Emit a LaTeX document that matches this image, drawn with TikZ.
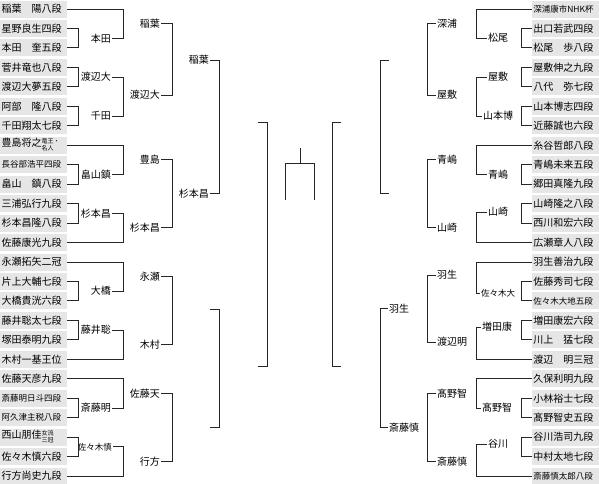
\documentclass[tikz,border=0pt]{standalone}
\usepackage{fontspec}
\setmainfont{Noto Sans CJK JP}
\definecolor{boxgray}{RGB}{230,230,230}
\newcommand{\brk}[3]{\draw[ln] (#1) -- (#1 -| #3) -- (#2 -| #3) -- (#2);}
\newcommand{\smf}{\fontsize{8.5}{9}\selectfont}
\newcommand{\stk}[2]{{\fontsize{6}{7}\selectfont\begin{tabular}[c]{@{}l@{}}#1\\#2\end{tabular}}}
\begin{document}
\begin{tikzpicture}[x=1pt,y=-1pt,
  pl/.style={fill=boxgray, minimum height=17pt, text width=64pt, inner xsep=1.5pt, inner ysep=0pt, align=left, font=\fontsize{10}{10}\selectfont},
  lab/.style={inner sep=1pt, font=\fontsize{10}{10}\selectfont},
  ln/.style={line width=0.9pt, draw=black!85}]
\useasboundingbox (0,0) rectangle (599,483);
% column x coordinates
\coordinate (xa) at (78,0);  \coordinate (xb) at (123,0);
\coordinate (xc) at (172,0); \coordinate (xd) at (219,0);
\coordinate (xe) at (267,0);
\coordinate (ya) at (521,0); \coordinate (yb) at (476,0);
\coordinate (yc) at (427,0); \coordinate (yd) at (380,0);
\coordinate (ye) at (332,0);
% left players
\node[pl,anchor=west] (L0) at (0,9.0) {稲葉　陽八段};
\node[pl,anchor=west] (L1) at (0,28.5) {星野良生四段};
\node[pl,anchor=west] (L2) at (0,47.9) {本田　奎五段};
\node[pl,anchor=west] (L3) at (0,67.4) {菅井竜也八段};
\node[pl,anchor=west] (L4) at (0,86.8) {渡辺大夢五段};
\node[pl,anchor=west] (L5) at (0,106.3) {阿部　隆八段};
\node[pl,anchor=west] (L6) at (0,125.8) {千田翔太七段};
\node[pl,anchor=west] (L7) at (0,145.2) {豊島将之\stk{竜王・}{名人}};
\node[pl,anchor=west] (L8) at (0,164.7) {\smf 長谷部浩平四段};
\node[pl,anchor=west] (L9) at (0,184.1) {畠山　鎮八段};
\node[pl,anchor=west] (L10) at (0,203.6) {三浦弘行九段};
\node[pl,anchor=west] (L11) at (0,223.1) {杉本昌隆八段};
\node[pl,anchor=west] (L12) at (0,242.5) {佐藤康光九段};
\node[pl,anchor=west] (L13) at (0,262.0) {永瀬拓矢二冠};
\node[pl,anchor=west] (L14) at (0,281.4) {片上大輔七段};
\node[pl,anchor=west] (L15) at (0,300.9) {大橋貴洸六段};
\node[pl,anchor=west] (L16) at (0,320.4) {藤井聡太七段};
\node[pl,anchor=west] (L17) at (0,339.8) {塚田泰明九段};
\node[pl,anchor=west] (L18) at (0,359.3) {木村一基王位};
\node[pl,anchor=west] (L19) at (0,378.7) {佐藤天彦九段};
\node[pl,anchor=west] (L20) at (0,398.2) {\smf 斎藤明日斗四段};
\node[pl,anchor=west] (L21) at (0,417.7) {\smf 阿久津主税八段};
\node[pl,anchor=west] (L22) at (0,437.1) {西山朋佳\stk{女流}{三冠}};
\node[pl,anchor=west] (L23) at (0,456.6) {佐々木慎六段};
\node[pl,anchor=west] (L24) at (0,476.0) {行方尚史九段};
% right players
\node[pl,anchor=east] (R0) at (599,9.0) {\smf 深浦康市NHK杯};
\node[pl,anchor=east] (R1) at (599,28.5) {出口若武四段};
\node[pl,anchor=east] (R2) at (599,47.9) {松尾　歩八段};
\node[pl,anchor=east] (R3) at (599,67.4) {屋敷伸之九段};
\node[pl,anchor=east] (R4) at (599,86.8) {八代　弥七段};
\node[pl,anchor=east] (R5) at (599,106.3) {山本博志四段};
\node[pl,anchor=east] (R6) at (599,125.8) {近藤誠也六段};
\node[pl,anchor=east] (R7) at (599,145.2) {糸谷哲郎八段};
\node[pl,anchor=east] (R8) at (599,164.7) {青嶋未来五段};
\node[pl,anchor=east] (R9) at (599,184.1) {郷田真隆九段};
\node[pl,anchor=east] (R10) at (599,203.6) {山崎隆之八段};
\node[pl,anchor=east] (R11) at (599,223.1) {西川和宏六段};
\node[pl,anchor=east] (R12) at (599,242.5) {広瀬章人八段};
\node[pl,anchor=east] (R13) at (599,262.0) {羽生善治九段};
\node[pl,anchor=east] (R14) at (599,281.4) {佐藤秀司七段};
\node[pl,anchor=east] (R15) at (599,300.9) {\smf 佐々木大地五段};
\node[pl,anchor=east] (R16) at (599,320.4) {増田康宏六段};
\node[pl,anchor=east] (R17) at (599,339.8) {川上　猛七段};
\node[pl,anchor=east] (R18) at (599,359.3) {渡辺　明三冠};
\node[pl,anchor=east] (R19) at (599,378.7) {久保利明九段};
\node[pl,anchor=east] (R20) at (599,398.2) {小林裕士七段};
\node[pl,anchor=east] (R21) at (599,417.7) {髙野智史五段};
\node[pl,anchor=east] (R22) at (599,437.1) {谷川浩司九段};
\node[pl,anchor=east] (R23) at (599,456.6) {中村太地七段};
\node[pl,anchor=east] (R24) at (599,476.0) {\smf 斎藤慎太郎八段};
% left round 2 winners
\node[lab,anchor=east] (A1) at (112,38.2) {本田};
\node[lab,anchor=east] (A2) at (112,77.1) {渡辺大};
\node[lab,anchor=east] (A3) at (112,116.05) {千田};
\node[lab,anchor=east] (A4) at (112,174.4) {畠山鎮};
\node[lab,anchor=east] (A5) at (112,213.35) {杉本昌};
\node[lab,anchor=east] (A6) at (112,291.15) {大橋};
\node[lab,anchor=east] (A7) at (112,330.1) {藤井聡};
\node[lab,anchor=east] (A8) at (112,407.95) {斎藤明};
\node[lab,anchor=east,font=\smf] (A9) at (113,446.85) {佐々木慎};
% left round 3 winners
\node[lab,anchor=east] (B1) at (161,23.6) {稲葉};
\node[lab,anchor=east] (B2) at (161,95) {渡辺大};
\node[lab,anchor=east] (B3) at (161,159.8) {豊島};
\node[lab,anchor=east] (B4) at (161,227.9) {杉本昌};
\node[lab,anchor=east] (B5) at (161,276.6) {永瀬};
\node[lab,anchor=east] (B6) at (161,344.7) {木村};
\node[lab,anchor=east] (B7) at (161,393.3) {佐藤天};
\node[lab,anchor=east] (B8) at (161,461.4) {行方};
% left quarter-final winners
\node[lab,anchor=east] (C1) at (210,60.1) {稲葉};
\node[lab,anchor=east] (C2) at (210,193.85) {杉本昌};
% right round 2 winners
\node[lab] (D1) at (498,38.2) {松尾};
\node[lab] (D2) at (498,77.1) {屋敷};
\node[lab] (D3) at (498,116.05) {山本博};
\node[lab] (D4) at (498,174.4) {青嶋};
\node[lab] (D5) at (498,212) {山崎};
\node[lab,font=\smf] (D6) at (498,293) {佐々木大};
\node[lab] (D7) at (497,327) {増田康};
\node[lab] (D8) at (497,407.95) {髙野智};
\node[lab] (D9) at (498,444) {谷川};
% right round 3 winners
\node[lab,anchor=west] (E1) at (436,23.6) {深浦};
\node[lab,anchor=west] (E2) at (436,95) {屋敷};
\node[lab,anchor=west] (E3) at (436,159.8) {青嶋};
\node[lab,anchor=west] (E4) at (436,227.9) {山崎};
\node[lab,anchor=west] (E5) at (436,275) {羽生};
\node[lab,anchor=west] (E6) at (436,342) {渡辺明};
\node[lab,anchor=west] (E7) at (436,393.3) {髙野智};
\node[lab,anchor=west] (E8) at (436,461.4) {斎藤慎};
% right quarter-final winners
\node[lab,anchor=west] (F3) at (388,308.5) {羽生};
\node[lab,anchor=west] (F4) at (388,427.35) {斎藤慎};
% empty slots
\coordinate (EQ3) at (210,309); \coordinate (EQ4) at (210,427.35);
\coordinate (ES1) at (258,122);    \coordinate (ES2) at (258,366);
\coordinate (FQ1) at (389,60.1);   \coordinate (FQ2) at (389,193.85);
\coordinate (FS1) at (341,122);    \coordinate (FS2) at (341,366);
% left brackets
\brk{L1.east}{L2.east}{xa} \brk{L3.east}{L4.east}{xa} \brk{L5.east}{L6.east}{xa}
\brk{L8.east}{L9.east}{xa} \brk{L10.east}{L11.east}{xa} \brk{L14.east}{L15.east}{xa}
\brk{L16.east}{L17.east}{xa} \brk{L20.east}{L21.east}{xa} \brk{L22.east}{L23.east}{xa}
\brk{L0.east}{A1.east}{xb} \brk{A2.east}{A3.east}{xb} \brk{L7.east}{A4.east}{xb}
\brk{A5.east}{L12.east}{xb} \brk{L13.east}{A6.east}{xb} \brk{A7.east}{L18.east}{xb}
\brk{L19.east}{A8.east}{xb} \brk{A9.east}{L24.east}{xb}
\brk{B1.east}{B2.east}{xc} \brk{B3.east}{B4.east}{xc}
\brk{B5.east}{B6.east}{xc} \brk{B7.east}{B8.east}{xc}
\brk{C1.east}{C2.east}{xd} \brk{EQ3}{EQ4}{xd}
\brk{ES1}{ES2}{xe}
% right brackets
\brk{R1.west}{R2.west}{ya} \brk{R3.west}{R4.west}{ya} \brk{R5.west}{R6.west}{ya}
\brk{R8.west}{R9.west}{ya} \brk{R10.west}{R11.west}{ya} \brk{R14.west}{R15.west}{ya}
\brk{R16.west}{R17.west}{ya} \brk{R20.west}{R21.west}{ya} \brk{R22.west}{R23.west}{ya}
\brk{R0.west}{D1.west}{yb} \brk{D2.west}{D3.west}{yb} \brk{R7.west}{D4.west}{yb}
\brk{D5.west}{R12.west}{yb} \brk{R13.west}{D6.west}{yb} \brk{D7.west}{R18.west}{yb}
\brk{R19.west}{D8.west}{yb} \brk{D9.west}{R24.west}{yb}
\brk{E1.west}{E2.west}{yc} \brk{E3.west}{E4.west}{yc}
\brk{E5.west}{E6.west}{yc} \brk{E7.west}{E8.west}{yc}
\brk{FQ1}{FQ2}{yd} \brk{F3.west}{F4.west}{yd}
\brk{FS1}{FS2}{ye}
% final
\coordinate (c0) at (300,148); \coordinate (c1) at (300,163);
\coordinate (cl) at (285,163); \coordinate (cr) at (314,163);
\coordinate (cl2) at (285,200); \coordinate (cr2) at (314,200);
\draw[ln] (c0) -- (c1);
\draw[ln] (cl2) -- (cl) -- (cr) -- (cr2);
\end{tikzpicture}
\end{document}
